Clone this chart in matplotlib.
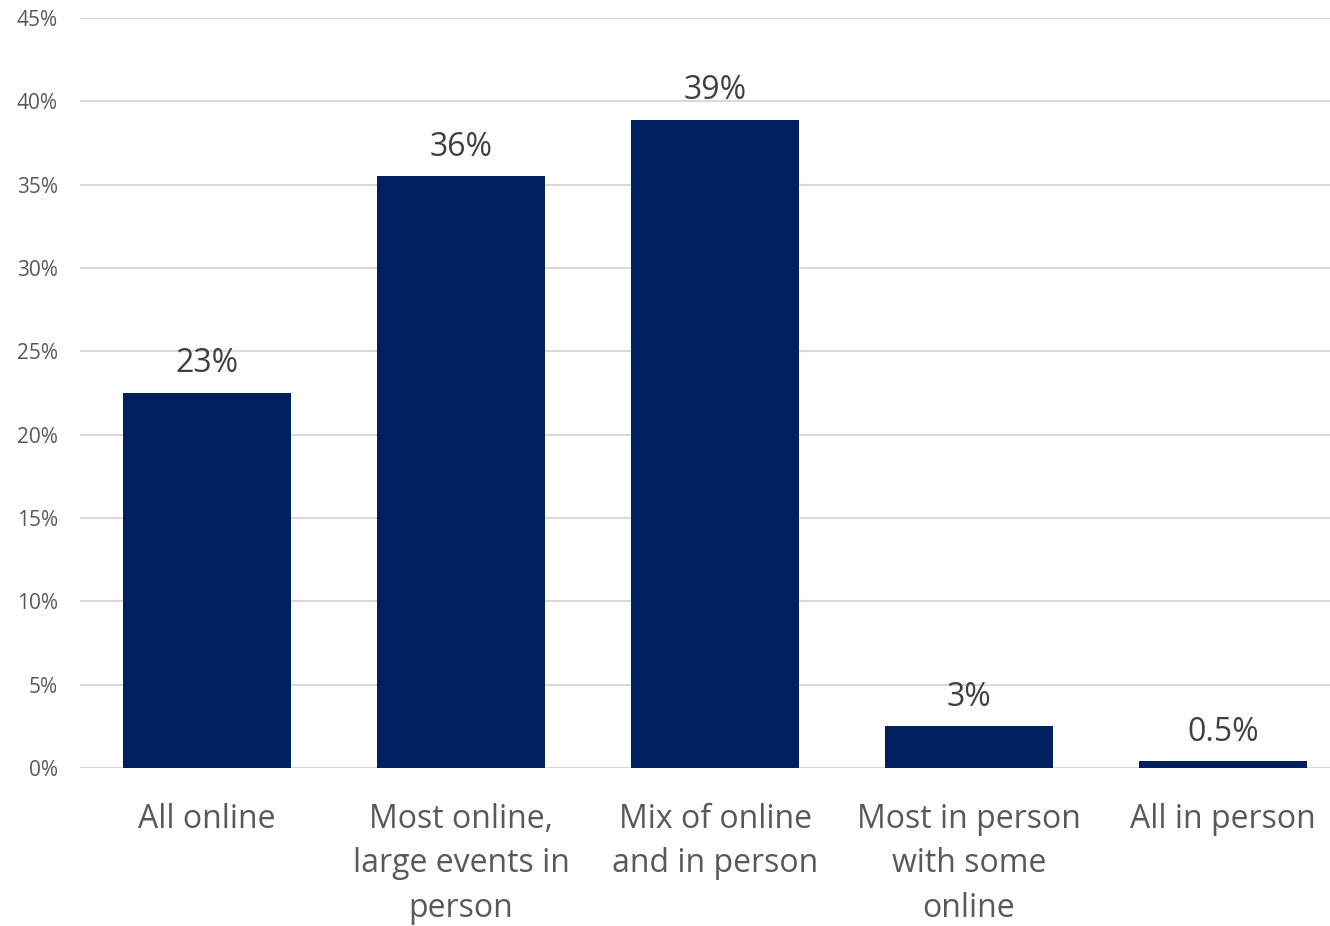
import matplotlib
matplotlib.use("Agg")
import matplotlib.pyplot as plt
from matplotlib.ticker import PercentFormatter

categories = ["All online", "Most online,\nlarge events in\nperson", "Mix of online\nand in person",
              "Most in person\nwith some\nonline", "All in person"]
values = [22.5, 35.5, 38.9, 2.5, 0.4]
labels = ["23%", "36%", "39%", "3%", "0.5%"]
yticks = [0, 5, 10, 15, 20, 25, 30, 35, 40, 45]

plt.rcParams['font.family'] = ['Open Sans', 'DejaVu Sans']

fig = plt.figure(figsize=(13.3, 9.26), dpi=100)
ax = fig.add_axes([80/1330, 1-768/926, 1270/1330, 750/926])

x = list(range(len(categories)))
bars = ax.bar(x, values, width=0.665, color="#002060", zorder=3)
for b, lab in zip(bars, labels):
    ax.annotate(lab, (b.get_x() + b.get_width()/2, b.get_height()),
                xytext=(0, 9), textcoords="offset points", ha="center", va="bottom",
                fontsize=23, color="#404040")

ax.set_xlim(-0.5, 4.5)
ax.set_ylim(0, 45)
ax.set_yticks(yticks)
ax.yaxis.set_major_formatter(PercentFormatter(decimals=0))
ax.set_xticks(x)
ax.set_xticklabels(categories, fontsize=23, color="#595959", linespacing=1.47, va="top")
ax.tick_params(axis="y", labelsize=15, labelcolor="#595959", length=0, pad=16)
ax.tick_params(axis="x", length=0, pad=25)
ax.grid(axis="y", color="#d9d9d9", linewidth=1.5, zorder=0)
for s in ax.spines.values():
    s.set_visible(False)

fig.savefig("out.png", dpi=100)
